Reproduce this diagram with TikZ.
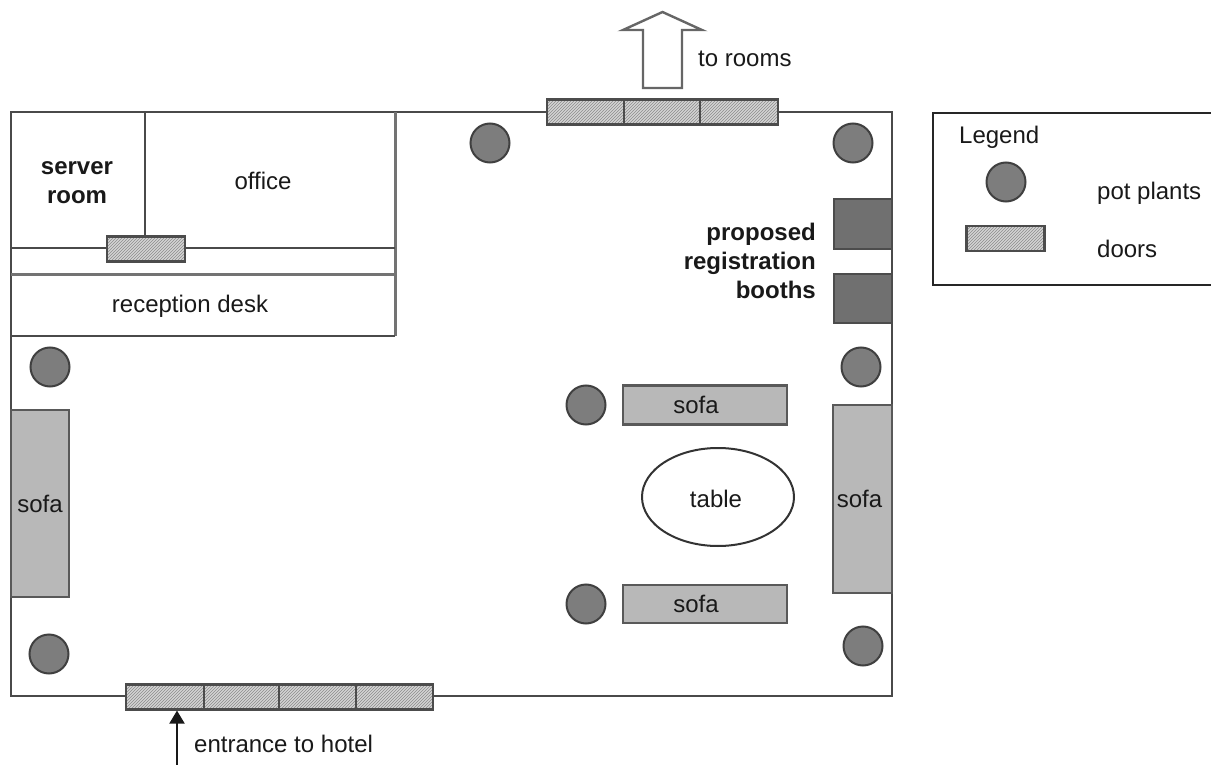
\documentclass[tikz,border=0pt]{standalone}
\usepackage{fontspec}
\setmainfont{Liberation Sans}
\usetikzlibrary{patterns,arrows.meta}
\definecolor{wallc}{HTML}{4A4A4A}
\definecolor{plantc}{HTML}{7D7D7D}
\definecolor{boothc}{HTML}{707070}
\definecolor{sofac}{HTML}{B8B8B8}
\definecolor{doorc}{HTML}{D4D4D4}
\definecolor{hatchc}{HTML}{8C8C8C}
\tikzset{
 wall/.style={draw=wallc,line width=2pt},
 greywall/.style={draw=black!55,line width=3pt},
 lbl/.style={font=\fontsize{24}{29}\selectfont,text=black!90,inner sep=0pt,align=center},
 blbl/.style={lbl,font=\fontsize{24}{29}\selectfont\bfseries},
 plant/.style={circle,draw=black!75,line width=2pt,fill=plantc,minimum size=39pt,inner sep=0pt},
 doorbox/.style={rectangle,draw=black!70,line width=2.2pt,preaction={fill=doorc},pattern={north east lines},pattern color=hatchc,inner sep=0pt,minimum height=25pt},
 sofabox/.style={rectangle,draw=black!65,line width=2.4pt,fill=sofac,inner sep=0pt},
 booth/.style={rectangle,draw=black!70,line width=2pt,fill=boothc,inner sep=0pt},
}
\begin{document}
\begin{tikzpicture}[x=1pt,y=-1pt]
\useasboundingbox (0,0) rectangle (1211,765);
% building outline
\coordinate (tl) at (11,112);
\coordinate (tr) at (892,112);
\coordinate (br) at (892,696);
\coordinate (bl) at (11,696);
\draw[wall] (tl) -- (tr) -- (br) -- (bl) -- cycle;
% rooms
\coordinate (wt) at (395,112);
\coordinate (wb) at (395,336);
\coordinate (wl) at (11,336);
\coordinate (ml) at (11,248);
\coordinate (mr) at (395,248);
\coordinate (dl) at (11,274);
\coordinate (dr) at (395,274);
\coordinate (st) at (145,112);
\coordinate (sb) at (145,236);
\draw[greywall] (wt) -- (wb);
\draw[wall] (wb) -- (wl);
\draw[wall] (ml) -- (mr);
\draw[greywall] (dl) -- (dr);
\draw[wall] (st) -- (sb);
% doors
\node[doorbox,minimum width=78pt] (d0) at (146,249) {};
\node[doorbox,minimum width=77pt] (t1) at (585.5,112) {};
\node[doorbox,minimum width=76pt] (t2) at (662,112) {};
\node[doorbox,minimum width=78pt] (t3) at (739,112) {};
\node[doorbox,minimum width=78pt] (b1) at (165,697) {};
\node[doorbox,minimum width=75pt] (b2) at (241.5,697) {};
\node[doorbox,minimum width=77pt] (b3) at (317.5,697) {};
\node[doorbox,minimum width=77pt] (b4) at (394.5,697) {};
% arrow to rooms
\draw[draw=black!60,line width=2.4pt,fill=white,line join=miter] (643,88) -- (643,30) -- (623,30) -- (662.5,12) -- (702,30) -- (682,30) -- (682,88) -- cycle;
\node[lbl,anchor=west] (torooms) at (698,59) {to rooms};
% entrance arrow
\coordinate (ent) at (177,765);
\draw[-{Triangle[length=13pt,width=15pt]},line width=2pt,black!90] (ent) -- (b1.south -| ent);
\node[lbl,anchor=west] (entr) at (194,744) {entrance to hotel};
% plants
\node[plant] (p1) at (490,143) {};
\node[plant] (p2) at (853,143) {};
\node[plant] (p3) at (50,367) {};
\node[plant] (p4) at (49,654) {};
\node[plant] (p5) at (861,367) {};
\node[plant] (p6) at (586,405) {};
\node[plant] (p7) at (586,604) {};
\node[plant] (p8) at (863,646) {};
% booths
\node[booth,minimum width=58pt,minimum height=49pt] (bo1) at (863,224) {};
\node[booth,minimum width=58pt,minimum height=49pt] (bo2) at (863,298) {};
\node[blbl,align=right,anchor=east] (prop) at (816,261) {proposed\\registration\\booths};
% sofas
\node[sofabox,minimum width=58pt,minimum height=187pt,anchor=center] (s1) at (40,503.5) {};
\node[lbl,anchor=center] at (s1) {sofa};
\node[sofabox,minimum width=59pt,minimum height=188pt] (s2) at (862.5,499) {};
\node[lbl,anchor=center] at (859.5,499) {sofa};
\node[sofabox,minimum width=164pt,minimum height=39pt] (s3) at (705,405) {};
\node[lbl] at (696,405) {sofa};
\node[sofabox,minimum width=164pt,minimum height=38pt] (s4) at (705,604) {};
\node[lbl] at (696,604) {sofa};
% table
\draw[black!80,line width=2pt,fill=white] (718,497) ellipse [x radius=76,y radius=49];
\node[lbl] (tbl) at (716,499) {table};
% room labels
\node[blbl] (srv) at (77,183) {server\\room};
\node[lbl] (off) at (263,181) {office};
\node[lbl] (rec) at (190,306) {reception desk};
% legend
\draw[black!85,line width=2.4pt] (1212,113) -- (933,113) -- (933,285) -- (1212,285);
\node[lbl,anchor=west] (leg) at (959,137) {Legend};
\node[plant] (lp) at (1006,182) {};
\node[doorbox,minimum width=78pt] (ld) at (1005.5,238.5) {};
\node[lbl,anchor=west] (lpt) at (1097,193) {pot plants};
\node[lbl,anchor=west] (ldt) at (1097,249) {doors};
\end{tikzpicture}
\end{document}
